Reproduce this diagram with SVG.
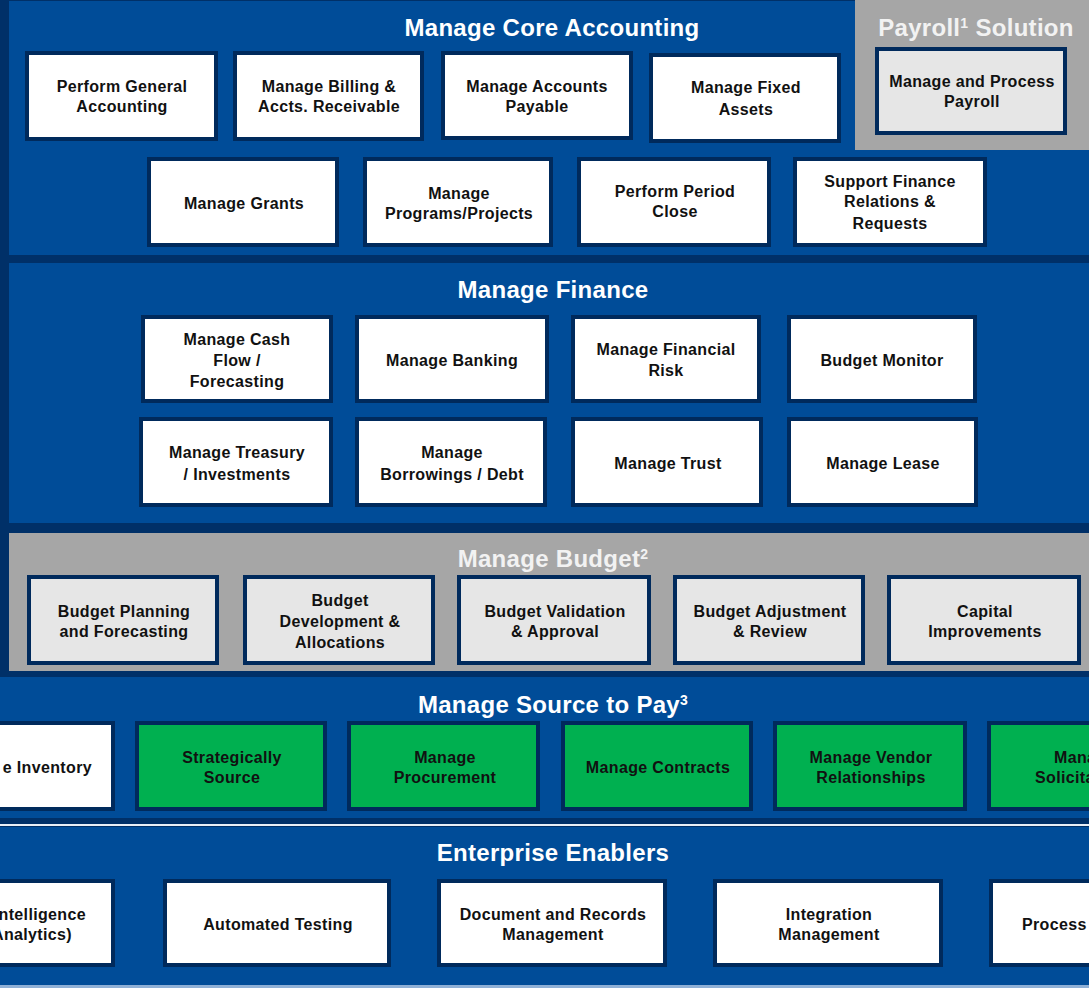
<svg xmlns="http://www.w3.org/2000/svg" width="1089" height="988" viewBox="0 0 1089 988">
<style>
.bg{fill:#003068}
.band{fill:#004c98}
.gband{fill:#a6a6a6}
.n rect{stroke:#002a5c;stroke-width:4}
.w rect{fill:#ffffff}
.g rect{fill:#e6e6e6}
.gr rect{fill:#00b050}
.t{font-family:"Liberation Sans",Arial,sans-serif;font-weight:bold;font-size:16px;letter-spacing:0.35px;fill:#111111;text-anchor:middle}
.h{font-family:"Liberation Sans",Arial,sans-serif;font-weight:bold;font-size:24px;letter-spacing:0.3px;fill:#ffffff;text-anchor:middle}
.hg{fill:#f2f2f2}
</style>
<rect class="bg" x="0" y="0" width="1089" height="988"/>
<g id="band-core">
<rect class="band" x="9" y="1" width="1080" height="254"/>
<rect class="gband" x="855" y="0" width="234" height="150"/>
<text class="h" x="552" y="36">Manage Core Accounting</text>
<text class="h hg" x="976" y="36">Payroll<tspan font-size="14" dy="-8">1</tspan><tspan dy="8"> Solution</tspan></text>
</g>
<g id="band-finance">
<rect class="band" x="9" y="263" width="1080" height="260"/>
<text class="h" x="553" y="298">Manage Finance</text>
</g>
<g id="band-budget">
<rect class="gband" x="9" y="533" width="1080" height="138"/>
<text class="h hg" x="553" y="567">Manage Budget<tspan font-size="14" dy="-8">2</tspan></text>
</g>
<g id="band-s2p">
<rect class="band" x="0" y="677" width="1089" height="141"/>
<rect x="0" y="824" width="1089" height="2" fill="#e8eef6"/>
<text class="h" x="553" y="713">Manage Source to Pay<tspan font-size="14" dy="-8">3</tspan></text>
</g>
<g id="band-enablers">
<rect class="band" x="0" y="827" width="1089" height="158"/>
<rect x="0" y="985" width="1089" height="3" fill="#8fb0d6"/>
<text class="h" x="553" y="861">Enterprise Enablers</text>
</g>

<g id="connectors"></g>

<g id="n-pga" class="n w"><rect x="27" y="53" width="189" height="86"/><text class="t" x="122" y="92">Perform General<tspan x="122" dy="20">Accounting</tspan></text></g>
<g id="n-billing" class="n w"><rect x="235" y="53" width="187" height="86"/><text class="t" x="329" y="92">Manage Billing &amp;<tspan x="329" dy="20">Accts. Receivable</tspan></text></g>
<g id="n-ap" class="n w"><rect x="443" y="53" width="188" height="85"/><text class="t" x="537" y="92">Manage Accounts<tspan x="537" dy="20">Payable</tspan></text></g>
<g id="n-fa" class="n w"><rect x="651" y="55" width="188" height="86"/><text class="t" x="746" y="93" font-size="17" letter-spacing="0.6">Manage Fixed<tspan x="746" dy="22">Assets</tspan></text></g>
<g id="n-payroll" class="n g"><rect x="877" y="49" width="188" height="84"/><text class="t" x="972" y="87">Manage and Process<tspan x="972" dy="20">Payroll</tspan></text></g>

<g id="n-grants" class="n w"><rect x="149" y="159" width="188" height="86"/><text class="t" x="244" y="209">Manage Grants</text></g>
<g id="n-programs" class="n w"><rect x="365" y="159" width="186" height="86"/><text class="t" x="459" y="199">Manage<tspan x="459" dy="20">Programs/Projects</tspan></text></g>
<g id="n-close" class="n w"><rect x="579" y="159" width="190" height="86"/><text class="t" x="675" y="197">Perform Period<tspan x="675" dy="20">Close</tspan></text></g>
<g id="n-support" class="n w"><rect x="795" y="159" width="190" height="86"/><text class="t" x="890" y="187">Support Finance<tspan x="890" dy="20">Relations &amp;</tspan><tspan x="890" dy="22">Requests</tspan></text></g>

<g id="n-cash" class="n w"><rect x="143" y="317" width="188" height="84"/><text class="t" x="237" y="345">Manage Cash<tspan x="237" dy="21">Flow /</tspan><tspan x="237" dy="21">Forecasting</tspan></text></g>
<g id="n-banking" class="n w"><rect x="357" y="317" width="190" height="84"/><text class="t" x="452" y="366">Manage Banking</text></g>
<g id="n-risk" class="n w"><rect x="573" y="317" width="186" height="84"/><text class="t" x="666" y="355">Manage Financial<tspan x="666" dy="21">Risk</tspan></text></g>
<g id="n-monitor" class="n w"><rect x="789" y="317" width="186" height="84"/><text class="t" x="882" y="366">Budget Monitor</text></g>

<g id="n-treasury" class="n w"><rect x="141" y="419" width="190" height="86"/><text class="t" x="237" y="458">Manage Treasury<tspan x="237" dy="22">/ Investments</tspan></text></g>
<g id="n-borrow" class="n w"><rect x="357" y="419" width="188" height="86"/><text class="t" x="452" y="458">Manage<tspan x="452" dy="22">Borrowings / Debt</tspan></text></g>
<g id="n-trust" class="n w"><rect x="573" y="419" width="188" height="86"/><text class="t" x="668" y="469">Manage Trust</text></g>
<g id="n-lease" class="n w"><rect x="789" y="419" width="187" height="86"/><text class="t" x="883" y="469">Manage Lease</text></g>

<g id="n-bplan" class="n g"><rect x="29" y="577" width="188" height="86"/><text class="t" x="124" y="617">Budget Planning<tspan x="124" dy="20">and Forecasting</tspan></text></g>
<g id="n-bdev" class="n g"><rect x="245" y="577" width="188" height="86"/><text class="t" x="340" y="606">Budget<tspan x="340" dy="21">Development &amp;</tspan><tspan x="340" dy="21">Allocations</tspan></text></g>
<g id="n-bval" class="n g"><rect x="459" y="577" width="190" height="86"/><text class="t" x="555" y="617">Budget Validation<tspan x="555" dy="20">&amp; Approval</tspan></text></g>
<g id="n-badj" class="n g"><rect x="675" y="577" width="188" height="86"/><text class="t" x="770" y="617">Budget Adjustment<tspan x="770" dy="20">&amp; Review</tspan></text></g>
<g id="n-capital" class="n g"><rect x="889" y="577" width="190" height="86"/><text class="t" x="985" y="617">Capital<tspan x="985" dy="20">Improvements</tspan></text></g>

<g id="n-inventory" class="n w"><rect x="-80" y="723" width="193" height="86"/><text class="t" x="92" y="773" style="text-anchor:end">e Inventory</text></g>
<g id="n-source" class="n gr"><rect x="137" y="723" width="188" height="86"/><text class="t" x="232" y="763">Strategically<tspan x="232" dy="20">Source</tspan></text></g>
<g id="n-procure" class="n gr"><rect x="349" y="723" width="189" height="86"/><text class="t" x="445" y="763">Manage<tspan x="445" dy="20">Procurement</tspan></text></g>
<g id="n-contracts" class="n gr"><rect x="563" y="723" width="188" height="86"/><text class="t" x="658" y="773">Manage Contracts</text></g>
<g id="n-vendor" class="n gr"><rect x="775" y="723" width="190" height="86"/><text class="t" x="871" y="763">Manage Vendor<tspan x="871" dy="20">Relationships</tspan></text></g>
<g id="n-solicit" class="n gr"><rect x="989" y="723" width="200" height="86"/><text class="t" x="1054" y="763" style="text-anchor:start">Mana<tspan x="1035" dy="20">Solicita</tspan></text></g>

<g id="n-bi" class="n w"><rect x="-120" y="881" width="233" height="84"/><text class="t" x="86" y="920" style="text-anchor:end">ntelligence<tspan x="72" dy="20">Analytics)</tspan></text></g>
<g id="n-testing" class="n w"><rect x="165" y="881" width="224" height="84"/><text class="t" x="278" y="930">Automated Testing</text></g>
<g id="n-docs" class="n w"><rect x="439" y="881" width="226" height="84"/><text class="t" x="553" y="920">Document and Records<tspan x="553" dy="20">Management</tspan></text></g>
<g id="n-integration" class="n w"><rect x="715" y="881" width="226" height="84"/><text class="t" x="829" y="920">Integration<tspan x="829" dy="20">Management</tspan></text></g>
<g id="n-process" class="n w"><rect x="991" y="881" width="200" height="84"/><text class="t" x="1022" y="930" style="text-anchor:start">Process</text></g>
</svg>
